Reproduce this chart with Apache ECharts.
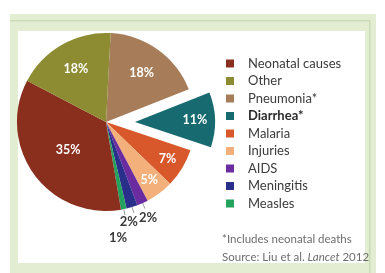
<!DOCTYPE html>
<html>
<head>
<meta charset="utf-8">
<script src="https://cdn.jsdelivr.net/npm/echarts@6/dist/echarts.min.js"></script>
<style>
  html, body { margin: 0; padding: 0; background: #fff; }
  #chart { width: 385px; height: 273px; }
</style>
</head>
<body>
<div id="chart"></div>
<script>
// slices in drawing order, clockwise from 12 o'clock
const causes = ["Pneumonia*", "Diarrhea*", "Malaria", "Injuries", "AIDS", "Meningitis", "Measles", "Neonatal causes", "Other"];
const shares = [18, 11, 7, 5, 2, 2, 1, 35, 18];
const colors = ["#a67d58", "#166a70", "#d8572b", "#f4b07a", "#6a2c9e", "#2a2f8c", "#22a25c", "#8a2e1d", "#8e8c32"];
const legendOrder = ["Neonatal causes", "Other", "Pneumonia*", "Diarrhea*", "Malaria", "Injuries", "AIDS", "Meningitis", "Measles"];
const exploded = "Diarrhea*";
const smallOnes = ["AIDS", "Meningitis", "Measles"];
const smallNudge = [[3, 9], [-5, 9], [-7, 23]];

const clear = "rgba(0,0,0,0)";
const font = "Lato";
const R = 89;

function slices(fn) {
  return causes.map((name, i) => Object.assign({ name: name, value: shares[i] }, fn(name, i)));
}

const base = {
  type: "pie",
  startAngle: 87,
  clockwise: true,
  silent: true,
  animation: false,
  avoidLabelOverlap: false,
  emphasis: { disabled: true }
};

const white = { position: "inside", formatter: "{c}%", fontFamily: font, fontSize: 12.5, fontWeight: "bold", color: "#ffffff" };

// transparent ring that only carries the inside labels of some slices
function labelRing(center, radius, shown) {
  return Object.assign({}, base, {
    center: center,
    radius: radius,
    itemStyle: { color: clear },
    labelLine: { show: false },
    data: slices(name => ({ label: Object.assign({ show: shown.indexOf(name) >= 0 }, white) }))
  });
}

const option = {
  animation: false,
  legend: {
    orient: "vertical",
    left: 221,
    top: 52,
    icon: "rect",
    itemWidth: 8,
    itemHeight: 8,
    itemGap: 4.5,
    selectedMode: false,
    data: legendOrder.map(n => ({ name: n, itemStyle: { color: colors[causes.indexOf(n)] } })),
    formatter: n => (n === exploded ? "{b|" + n + "}" : n),
    textStyle: {
      fontFamily: font,
      fontSize: 13,
      color: "#3b3b3b",
      padding: [0, 0, 0, 9],
      rich: { b: { fontFamily: font, fontSize: 13, fontWeight: "bold", color: "#2b2b2b" } }
    }
  },
  graphic: [
    { type: "rect", shape: { x: 10, y: 14, width: 366, height: 270 }, style: { fill: "#e2edd2" }, z: -10 },
    { type: "rect", shape: { x: 10, y: 20, width: 360, height: 1.5 }, style: { fill: "#c9dcb5" }, z: -9 },
    { type: "rect", shape: { x: 369, y: 20, width: 1.5, height: 260 }, style: { fill: "#c9dcb5" }, z: -9 },
    { type: "rect", shape: { x: 18, y: 31, width: 347, height: 232 }, style: { fill: "#ffffff" }, z: -8 },
    { type: "text", left: 222, top: 233, style: { text: "*Includes neonatal deaths", fontFamily: font, fontSize: 11.5, fill: "#6e6e6e" } },
    {
      type: "text", left: 222, top: 251,
      style: {
        text: "Source: Liu et al. {i|Lancet} 2012",
        fontFamily: font, fontSize: 11.5, fill: "#6e6e6e",
        rich: { i: { fontFamily: font, fontSize: 11.5, fontStyle: "italic", fill: "#6e6e6e" } }
      }
    }
  ],
  series: [
    // main pie, exploded slice left empty
    Object.assign({}, base, {
      name: "main",
      center: [106, 122],
      radius: R,
      label: { show: false },
      labelLine: { show: false },
      labelLayout: function (p) {
        const k = smallOnes.indexOf(causes[p.dataIndex]);
        if (k < 0) return {};
        return { hideOverlap: false, align: "center", dx: smallNudge[k][0], dy: smallNudge[k][1] };
      },
      data: slices((name, i) => {
        const k = smallOnes.indexOf(name);
        return {
          itemStyle: { color: name === exploded ? clear : colors[i] },
          label: k < 0 ? { show: false } : {
            show: true, position: "outside", formatter: "{c}%",
            fontFamily: font, fontSize: 13, fontWeight: "bold", color: "#3a3a3a", distanceToLabelLine: 0
          },
          labelLine: k < 0 ? { show: false } : {
            show: true, length: 6, length2: 0, lineStyle: { color: "#9a9a9a", width: 1 }
          }
        };
      })
    }),
    // the pulled out slice
    Object.assign({}, base, {
      name: "exploded",
      center: [135, 122],
      radius: 80,
      label: { show: false },
      labelLine: { show: false },
      data: slices((name, i) => ({ itemStyle: { color: name === exploded ? colors[i] : clear } }))
    }),
    labelRing([106, 122], [0, 88], ["Neonatal causes"]),
    labelRing([106, 122], [28, 88], ["Other", "Pneumonia*"]),
    labelRing([106, 122], [50, 88], ["Malaria", "Injuries"]),
    labelRing([135, 122], [34, 80], [exploded])
  ]
};

const chart = echarts.init(document.getElementById("chart"));
chart.setOption(option);
</script>
</body>
</html>
